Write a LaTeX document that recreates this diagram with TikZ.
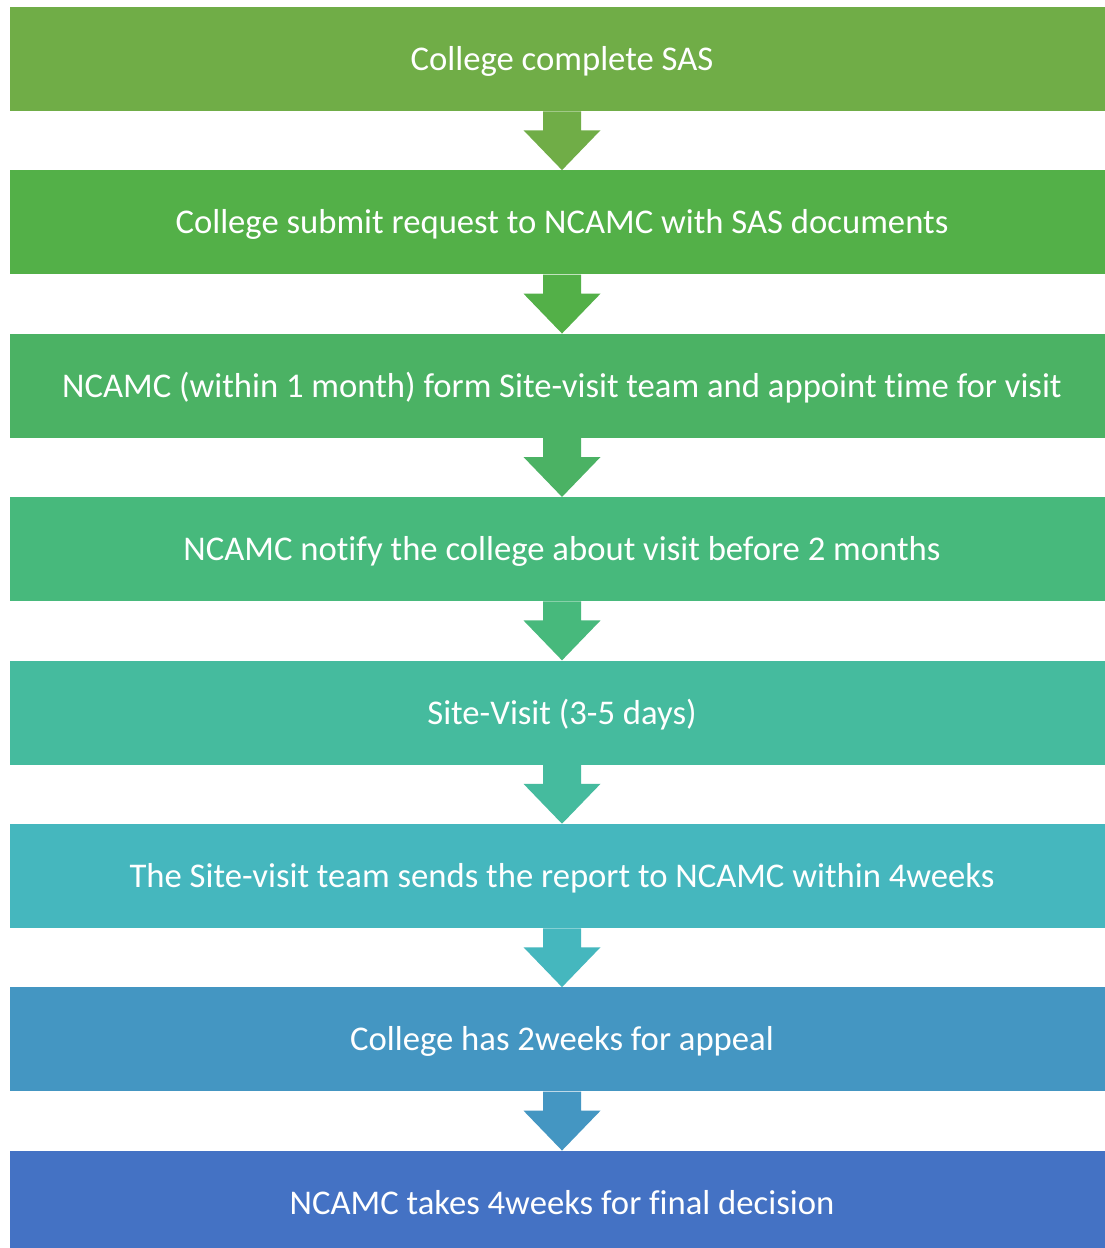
\documentclass[tikz,border=0pt]{standalone}
\usepackage{fontspec}
\setmainfont{Carlito}[Ligatures={NoCommon}]
\usetikzlibrary{calc}
\definecolor{c1}{HTML}{70AD47}
\definecolor{c2}{HTML}{53B048}
\definecolor{c3}{HTML}{4BB264}
\definecolor{c4}{HTML}{47B97C}
\definecolor{c5}{HTML}{45BB9E}
\definecolor{c6}{HTML}{45B7BE}
\definecolor{c7}{HTML}{4496C2}
\definecolor{c8}{HTML}{4472C4}
% one drawing unit is 0.75pt; box sizes are given in pt
\tikzset{
  stepbox/.style={rectangle, draw=none, fill=#1, minimum width=828.75pt, minimum height=78pt,
    inner sep=0pt, text=white, text height=20pt, text depth=2.75pt,
    font=\fontsize{26}{30}\selectfont},
}
\newcommand{\downarrowshape}[3]{%
  \fill[#3] ($(#1.south)+(-19,0)$) -- ($(#1.south)+(19,0)$) -- ($(#1.south)+(19,19)$)
    -- ($(#1.south)+(38.5,19)$) -- (#2.north) -- ($(#1.south)+(-38.5,19)$)
    -- ($(#1.south)+(-19,19)$) -- cycle;}
\begin{document}
\begin{tikzpicture}[x=0.75pt, y=-0.75pt]
\useasboundingbox (0,0) rectangle (1105,1248);
\clip (0,0) rectangle (1105,1248);
\fill[white] (0,0) rectangle (1105,1248);
\node[stepbox=c1] (b1) at (562,59) {College complete SAS};
\node[stepbox=c2] (b2) at (562,222.4) {College submit request to NCAMC with SAS documents};
\node[stepbox=c3] (b3) at (562,385.8) {NCAMC (within 1 month) form Site-visit team and appoint time for visit};
\node[stepbox=c4] (b4) at (562,549.2) {NCAMC notify the college about visit before 2 months};
\node[stepbox=c5] (b5) at (562,712.6) {Site-Visit (3-5 days)};
\node[stepbox=c6] (b6) at (562,876) {The Site-visit team sends the report to NCAMC within 4weeks};
\node[stepbox=c7] (b7) at (562,1039.4) {College has 2weeks for appeal};
\node[stepbox=c8] (b8) at (562,1202.8) {NCAMC takes 4weeks for final decision};
\downarrowshape{b1}{b2}{c1}
\downarrowshape{b2}{b3}{c2}
\downarrowshape{b3}{b4}{c3}
\downarrowshape{b4}{b5}{c4}
\downarrowshape{b5}{b6}{c5}
\downarrowshape{b6}{b7}{c6}
\downarrowshape{b7}{b8}{c7}
\end{tikzpicture}
\end{document}
